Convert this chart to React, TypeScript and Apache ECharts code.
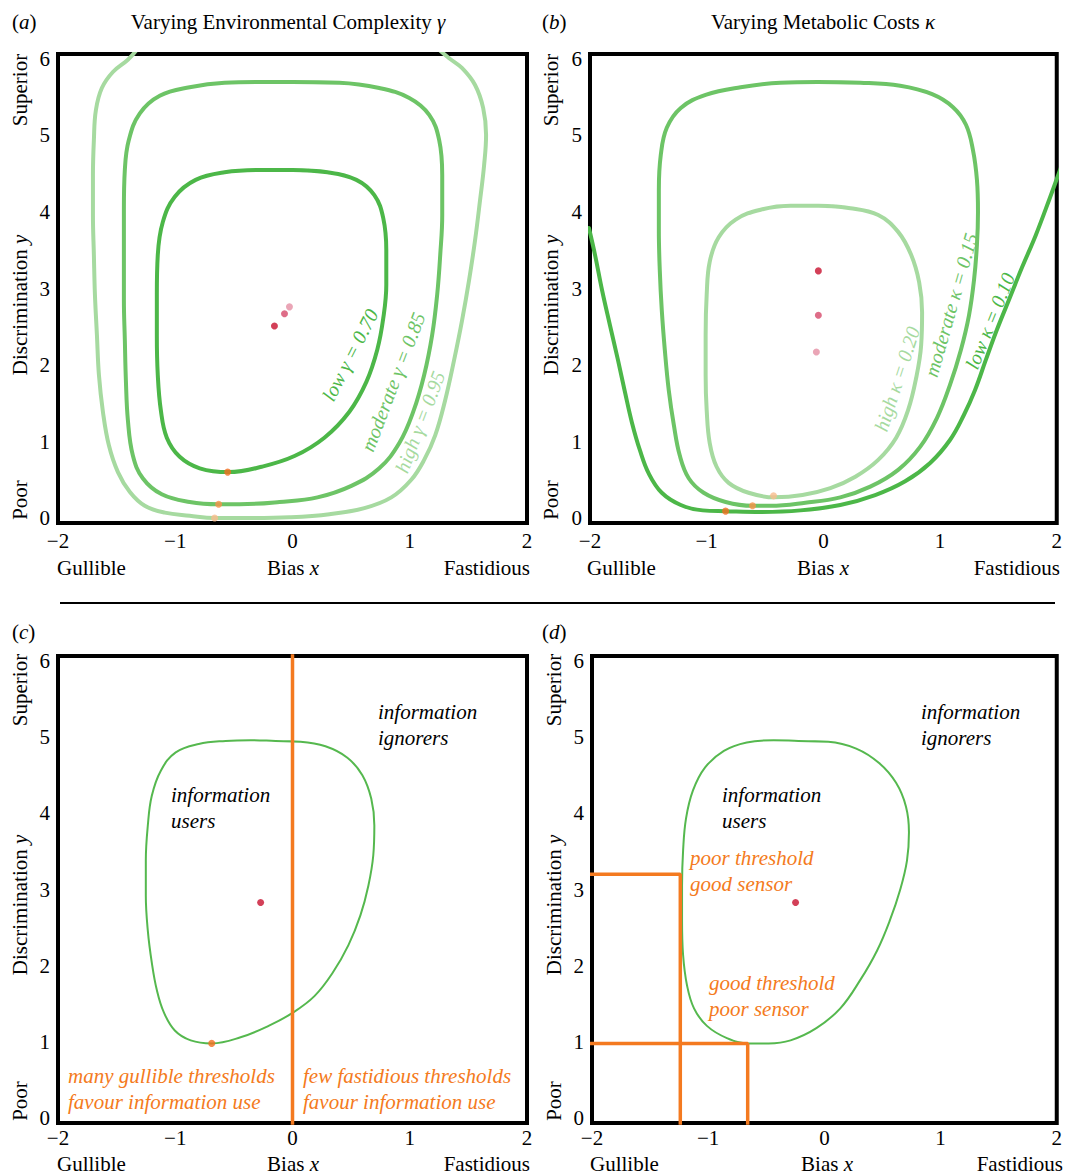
import React, { useEffect, useRef } from "react";
import * as echarts from "echarts";

const xTickValues = [-2, -1, 0, 1, 2];
const yTickValues = [0, 1, 2, 3, 4, 5, 6];

// Panel (a): environmental complexity gamma
const gammaLow: number[][] = [
  [0, 4.55], [0.298, 4.52], [0.545, 4.42], [0.698, 4.22], [0.774, 3.92], [0.8, 3.5], [0.8, 3.05],
  [0.774, 2.61], [0.723, 2.2], [0.63, 1.78], [0.485, 1.39], [0.272, 1.05], [0.017, 0.81],
  [-0.264, 0.67], [-0.545, 0.6], [-0.791, 0.65], [-0.962, 0.8], [-1.072, 1.05], [-1.123, 1.41],
  [-1.149, 1.87], [-1.157, 2.39], [-1.157, 2.92], [-1.149, 3.44], [-1.106, 3.87], [-1.004, 4.2],
  [-0.826, 4.42], [-0.579, 4.52], [-0.281, 4.55],
];
const gammaModerate: number[][] = [
  [0, 5.7], [0.4, 5.69], [0.74, 5.62], [0.996, 5.49], [1.166, 5.27], [1.251, 4.94], [1.277, 4.48],
  [1.277, 3.96], [1.26, 3.44], [1.234, 2.92], [1.191, 2.39], [1.123, 1.87], [1.03, 1.39],
  [0.911, 0.98], [0.74, 0.65], [0.502, 0.42], [0.213, 0.27], [-0.111, 0.21], [-0.451, 0.18],
  [-0.63, 0.18], [-0.877, 0.21], [-1.115, 0.31], [-1.277, 0.52], [-1.362, 0.82], [-1.404, 1.28],
  [-1.421, 1.8], [-1.43, 2.33], [-1.438, 2.85], [-1.438, 3.44], [-1.438, 4.03], [-1.43, 4.55],
  [-1.396, 4.94], [-1.302, 5.29], [-1.132, 5.52], [-0.877, 5.63], [-0.579, 5.69], [-0.281, 5.7],
];
const gammaHigh: number[][] = [
  [-1.328, 6.12], [-1.404, 5.99], [-1.532, 5.83], [-1.626, 5.62], [-1.677, 5.33], [-1.694, 4.94],
  [-1.702, 4.48], [-1.702, 3.96], [-1.694, 3.44], [-1.685, 2.92], [-1.668, 2.39], [-1.651, 1.87],
  [-1.617, 1.39], [-1.566, 0.95], [-1.489, 0.6], [-1.387, 0.34], [-1.26, 0.16], [-1.089, 0.07],
  [-0.877, 0.03], [-0.664, 0.0], [-0.366, 0.0], [-0.026, 0.01], [0.315, 0.05], [0.613, 0.13],
  [0.843, 0.27], [1.013, 0.5], [1.123, 0.76], [1.217, 1.08], [1.302, 1.54], [1.379, 2.07],
  [1.447, 2.59], [1.506, 3.11], [1.557, 3.63], [1.6, 4.16], [1.634, 4.61], [1.651, 5.01],
  [1.626, 5.36], [1.557, 5.66], [1.447, 5.88], [1.336, 6.01], [1.251, 6.12],
];

// Panel (b): metabolic costs kappa
const kappaHigh: number[][] = [
  [-0.043, 4.08], [0.231, 4.05], [0.47, 3.96], [0.641, 3.74], [0.752, 3.44], [0.821, 3.08],
  [0.846, 2.69], [0.838, 2.26], [0.795, 1.83], [0.726, 1.41], [0.624, 1.05], [0.47, 0.76],
  [0.274, 0.54], [0.06, 0.39], [-0.179, 0.3], [-0.419, 0.27], [-0.641, 0.33], [-0.812, 0.46],
  [-0.915, 0.67], [-0.974, 0.98], [-1.0, 1.41], [-1.009, 1.87], [-1.009, 2.39], [-1.0, 2.92],
  [-0.974, 3.35], [-0.897, 3.67], [-0.752, 3.9], [-0.538, 4.03], [-0.282, 4.08],
];
const kappaModerate: number[][] = [
  [-0.051, 5.7], [0.316, 5.69], [0.658, 5.65], [0.932, 5.54], [1.111, 5.37], [1.222, 5.14],
  [1.282, 4.81], [1.316, 4.42], [1.325, 4.0], [1.316, 3.57], [1.291, 3.11], [1.248, 2.65],
  [1.179, 2.2], [1.085, 1.74], [0.974, 1.31], [0.829, 0.93], [0.641, 0.63], [0.402, 0.41],
  [0.145, 0.27], [-0.154, 0.2], [-0.453, 0.16], [-0.607, 0.16], [-0.838, 0.21], [-1.026, 0.33],
  [-1.154, 0.52], [-1.231, 0.82], [-1.282, 1.22], [-1.325, 1.67], [-1.359, 2.2], [-1.385, 2.72],
  [-1.402, 3.24], [-1.41, 3.76], [-1.41, 4.29], [-1.393, 4.75], [-1.342, 5.1], [-1.222, 5.36],
  [-1.009, 5.53], [-0.709, 5.63], [-0.368, 5.69],
];
const kappaLow: number[][] = [
  [-2.009, 3.79], [-1.957, 3.44], [-1.897, 2.98], [-1.829, 2.52], [-1.761, 2.07], [-1.701, 1.65],
  [-1.641, 1.25], [-1.573, 0.89], [-1.496, 0.58], [-1.385, 0.33], [-1.222, 0.17], [-1.034, 0.1],
  [-0.838, 0.09], [-0.538, 0.08], [-0.197, 0.1], [0.145, 0.17], [0.444, 0.3], [0.701, 0.48],
  [0.915, 0.72], [1.085, 1.02], [1.205, 1.35], [1.299, 1.67], [1.393, 2.07], [1.487, 2.46],
  [1.59, 2.85], [1.701, 3.27], [1.821, 3.7], [1.94, 4.18], [2.043, 4.61],
];

// Panels (c) and (d): region where information is used
const loopC: number[][] = [
  [-0.145, 4.95], [0.068, 4.94], [0.281, 4.88], [0.468, 4.73], [0.596, 4.5], [0.672, 4.19],
  [0.698, 3.84], [0.689, 3.45], [0.647, 3.05], [0.579, 2.66], [0.477, 2.27], [0.34, 1.9],
  [0.187, 1.6], [0.0, 1.38], [-0.204, 1.21], [-0.443, 1.06], [-0.689, 0.98], [-0.868, 1.02],
  [-1.004, 1.15], [-1.098, 1.39], [-1.157, 1.68], [-1.2, 2.04], [-1.234, 2.46], [-1.251, 2.92],
  [-1.251, 3.38], [-1.234, 3.84], [-1.2, 4.23], [-1.123, 4.56], [-0.996, 4.8], [-0.8, 4.91],
  [-0.57, 4.95], [-0.357, 4.96],
];
const loopD: number[][] = [
  [-0.223, 4.95], [0.034, 4.94], [0.274, 4.85], [0.471, 4.66], [0.617, 4.4], [0.702, 4.09],
  [0.728, 3.75], [0.711, 3.38], [0.651, 2.99], [0.565, 2.6], [0.454, 2.2], [0.308, 1.81],
  [0.137, 1.44], [-0.069, 1.18], [-0.291, 1.02], [-0.48, 0.98], [-0.651, 0.98], [-0.839, 1.05],
  [-1.011, 1.21], [-1.122, 1.44], [-1.182, 1.74], [-1.216, 2.14], [-1.225, 2.6], [-1.225, 3.05],
  [-1.216, 3.51], [-1.191, 3.93], [-1.131, 4.3], [-1.028, 4.6], [-0.865, 4.82], [-0.668, 4.93],
  [-0.437, 4.96],
];

const optimaA: number[][] = [[-0.154, 2.51], [-0.068, 2.67], [-0.026, 2.76]];
const thresholdsA: number[][] = [[-0.553, 0.6], [-0.63, 0.18], [-0.664, 0.0]];
const optimaB: number[][] = [[-0.043, 3.23], [-0.043, 2.65], [-0.06, 2.17]];
const thresholdsB: number[][] = [[-0.838, 0.09], [-0.607, 0.16], [-0.427, 0.29]];
const optimumC: number[][] = [[-0.272, 2.83]];
const thresholdC: number[][] = [[-0.689, 0.98]];
const optimumD: number[][] = [[-0.248, 2.83]];
const boundaryC: number[][] = [[0, -0.2], [0, 6.2]];
const goodSensorD: number[][] = [[-2.1, 3.2], [-1.24, 3.2], [-1.24, -0.2]];
const goodThresholdD: number[][] = [[-2.1, 0.98], [-0.66, 0.98], [-0.66, -0.2]];

const FONT = "'Liberation Serif', 'DejaVu Serif', 'Times New Roman', serif";
const G_LOW = "#4cb748";
const G_MID = "#6dc466";
const G_LIGHT = "#a6daa0";
const REDS = ["#c8102e", "#d6496a", "#e58ea4"];
const ORANGES = ["#f36f21", "#f7924a", "#f9bb8c"];
const ORANGE = "#f47a20";

const closeLoop = (a: number[][]) => [...a, a[0], a[1]];

function txt(x: number, y: number, text: string, o: any = {}) {
  const size = o.size || 21;
  const col = o.color || "#000";
  const italicTok = { fontStyle: "italic", fontFamily: FONT, fontSize: size, lineHeight: size, fill: col };
  const plainTok = { fontStyle: "normal", fontFamily: FONT, fontSize: size, lineHeight: size, fill: col };
  return {
    type: "text",
    x,
    y,
    rotation: o.rot || 0,
    silent: true,
    z: 100,
    style: {
      text,
      fill: col,
      fontFamily: FONT,
      fontSize: size,
      lineHeight: size,
      fontStyle: o.italic ? "italic" : "normal",
      textAlign: o.align || "center",
      align: o.align || "center",
      textVerticalAlign: "middle",
      verticalAlign: "middle",
      rich: { i: italicTok, n: plainTok },
    },
  };
}

const deg = (d: number) => (d * Math.PI) / 180;

export default function App() {
  const ref = useRef<HTMLDivElement>(null);
  useEffect(() => {
    document.body.style.margin = "0";
    const chart = echarts.init(ref.current!, null, { renderer: "svg" });

    const grids = [
      { left: 58, top: 54, width: 469, height: 469 },
      { left: 590, top: 54, width: 468, height: 469 },
      { left: 58, top: 656, width: 469, height: 467 },
      { left: 592, top: 656, width: 468, height: 467 },
    ];
    const xAxes = grids.map((_, i) => ({
      type: "value",
      gridIndex: i,
      min: -2,
      max: 2,
      interval: 1,
      axisLine: { show: false },
      axisTick: { show: false },
      splitLine: { show: false },
      axisLabel: {
        margin: i < 2 ? 8 : 5,
        fontFamily: FONT,
        fontSize: 21,
        lineHeight: 20,
        color: "#000",
        customValues: xTickValues,
        formatter: (v: number) => (v < 0 ? "\u2212" + Math.abs(v) : String(v)),
      },
    }));
    const yAxes = grids.map((_, i) => ({
      type: "value",
      gridIndex: i,
      min: -0.065,
      max: 6.065,
      axisLine: { show: false },
      axisTick: { show: false },
      splitLine: { show: false },
      axisLabel: {
        margin: 8,
        fontFamily: FONT,
        fontSize: 21,
        lineHeight: 20,
        color: "#000",
        customValues: yTickValues,
        formatter: (v: number) => String(Math.round(v)),
      },
    }));

    const line = (gi: number, data: number[][], color: string, width: number, z = 3) => ({
      type: "line",
      xAxisIndex: gi,
      yAxisIndex: gi,
      data,
      smooth: 0.4,
      showSymbol: false,
      symbol: "none",
      silent: true,
      clip: true,
      z,
      lineStyle: { color, width, cap: "round", join: "round" },
    });
    const straight = (gi: number, data: number[][], color: string, width: number) => ({
      type: "line",
      xAxisIndex: gi,
      yAxisIndex: gi,
      data,
      smooth: false,
      showSymbol: false,
      symbol: "none",
      silent: true,
      clip: true,
      z: 4,
      lineStyle: { color, width },
    });
    const dots = (gi: number, data: number[][], colors: string[]) => ({
      type: "scatter",
      xAxisIndex: gi,
      yAxisIndex: gi,
      symbolSize: 7,
      silent: true,
      z: 6,
      data: data.map((p, i) => ({ value: p, itemStyle: { color: colors[i % colors.length] } })),
    });

    const series = [
      line(0, gammaHigh, G_LIGHT, 4),
      line(0, closeLoop(gammaModerate), G_MID, 4),
      line(0, closeLoop(gammaLow), G_LOW, 4),
      dots(0, optimaA, REDS),
      dots(0, thresholdsA, ORANGES),
      line(1, closeLoop(kappaHigh), G_LIGHT, 4),
      line(1, closeLoop(kappaModerate), G_MID, 4),
      line(1, kappaLow, G_LOW, 4),
      dots(1, optimaB, REDS),
      dots(1, thresholdsB, ORANGES),
      line(2, closeLoop(loopC), "#55b84e", 2),
      straight(2, boundaryC, ORANGE, 3.5),
      dots(2, optimumC, [REDS[0]]),
      dots(2, thresholdC, [ORANGES[0]]),
      line(3, closeLoop(loopD), "#55b84e", 2),
      straight(3, goodSensorD, ORANGE, 3.5),
      straight(3, goodThresholdD, ORANGE, 3.5),
      dots(3, optimumD, [REDS[0]]),
    ];

    const g: any[] = [];
    g.push(txt(12, 22, "({i|a})", { align: "left" }));
    g.push(txt(288, 22, "Varying Environmental Complexity {i|\u03b3}"));
    g.push(txt(542, 22, "({i|b})", { align: "left" }));
    g.push(txt(823, 22, "Varying Metabolic Costs {i|\u03ba}"));
    g.push(txt(12, 632, "({i|c})", { align: "left" }));
    g.push(txt(542, 632, "({i|d})", { align: "left" }));
    g.push({ type: "line", silent: true, shape: { x1: 60, y1: 603, x2: 1055, y2: 603 }, style: { stroke: "#000", lineWidth: 2 } });

    const axisTitles = [
      { gl: 57, bx: 293, fr: 530, by: 568, yx: 20, sup: 90, disc: 305, poor: 500 },
      { gl: 587, bx: 823, fr: 1060, by: 568, yx: 551, sup: 90, disc: 305, poor: 500 },
      { gl: 57, bx: 293, fr: 530, by: 1164, yx: 20, sup: 690, disc: 905, poor: 1101 },
      { gl: 590, bx: 827, fr: 1063, by: 1164, yx: 554, sup: 690, disc: 905, poor: 1101 },
    ];
    axisTitles.forEach((a) => {
      g.push(txt(a.gl, a.by, "Gullible", { align: "left" }));
      g.push(txt(a.bx, a.by, "Bias {i|x}"));
      g.push(txt(a.fr, a.by, "Fastidious", { align: "right" }));
      g.push(txt(a.yx, a.sup, "Superior", { rot: Math.PI / 2 }));
      g.push(txt(a.yx, a.disc, "Discrimination {i|y}", { rot: Math.PI / 2 }));
      g.push(txt(a.yx, a.poor, "Poor", { rot: Math.PI / 2 }));
    });

    g.push(txt(350, 355, "low \u03b3 = 0.70", { italic: true, size: 20, color: G_LOW, rot: deg(63) }));
    g.push(txt(393, 382, "moderate \u03b3 = 0.85", { italic: true, size: 20, color: G_MID, rot: deg(69) }));
    g.push(txt(420, 422, "high \u03b3 = 0.95", { italic: true, size: 20, color: G_LIGHT, rot: deg(69) }));
    g.push(txt(897, 379, "high \u03ba = 0.20", { italic: true, size: 20, color: G_LIGHT, rot: deg(72) }));
    g.push(txt(951, 305, "moderate \u03ba = 0.15", { italic: true, size: 20, color: G_MID, rot: deg(74) }));
    g.push(txt(990, 321, "low \u03ba = 0.10", { italic: true, size: 20, color: G_LOW, rot: deg(68) }));

    g.push(txt(378, 712, "information", { italic: true, align: "left" }));
    g.push(txt(378, 738, "ignorers", { italic: true, align: "left" }));
    g.push(txt(171, 795, "information", { italic: true, align: "left" }));
    g.push(txt(171, 821, "users", { italic: true, align: "left" }));
    g.push(txt(68, 1076, "many gullible thresholds", { italic: true, align: "left", color: ORANGE }));
    g.push(txt(68, 1102, "favour information use", { italic: true, align: "left", color: ORANGE }));
    g.push(txt(303, 1076, "few fastidious thresholds", { italic: true, align: "left", color: ORANGE }));
    g.push(txt(303, 1102, "favour information use", { italic: true, align: "left", color: ORANGE }));
    g.push(txt(921, 712, "information", { italic: true, align: "left" }));
    g.push(txt(921, 738, "ignorers", { italic: true, align: "left" }));
    g.push(txt(722, 795, "information", { italic: true, align: "left" }));
    g.push(txt(722, 821, "users", { italic: true, align: "left" }));
    g.push(txt(690, 858, "poor threshold", { italic: true, align: "left", color: ORANGE }));
    g.push(txt(690, 884, "good sensor", { italic: true, align: "left", color: ORANGE }));
    g.push(txt(709, 983, "good threshold", { italic: true, align: "left", color: ORANGE }));
    g.push(txt(709, 1009, "poor sensor", { italic: true, align: "left", color: ORANGE }));

    chart.setOption({
      animation: false,
      backgroundColor: "#fff",
      grid: grids.map((gr) => ({ ...gr, show: true, borderColor: "#000", borderWidth: 4, backgroundColor: "transparent" })),
      xAxis: xAxes,
      yAxis: yAxes,
      series,
      graphic: g,
    });
    return () => chart.dispose();
  }, []);
  return <div ref={ref} style={{ width: 1065, height: 1175 }} />;
}
